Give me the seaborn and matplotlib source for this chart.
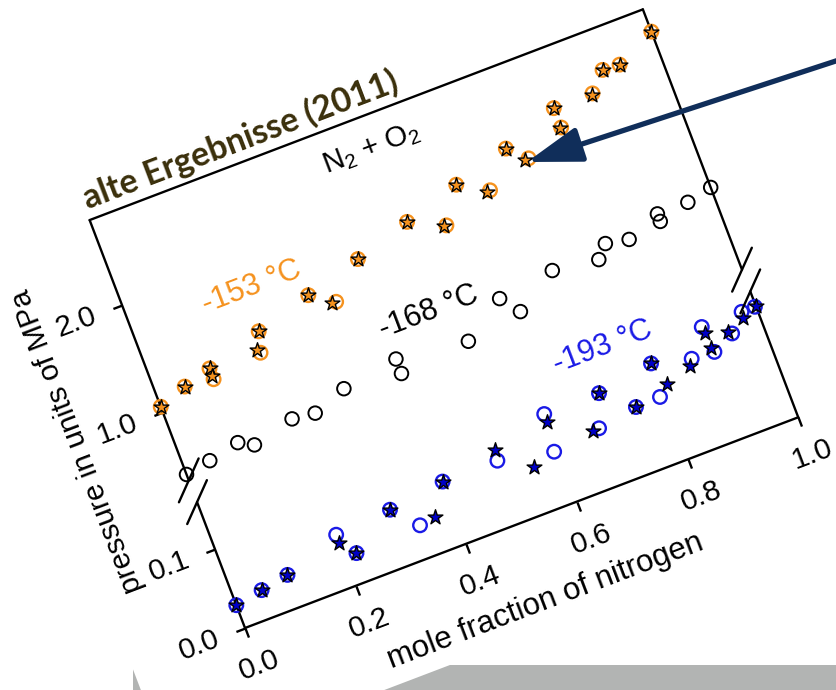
import matplotlib
matplotlib.use("Agg")
import matplotlib.pyplot as plt
import seaborn as sns
from matplotlib.transforms import Affine2D
from matplotlib.patches import Polygon, Rectangle
from matplotlib.lines import Line2D
import mpl_toolkits.axisartist.floating_axes as floating_axes
from mpl_toolkits.axisartist.grid_finder import FixedLocator

# -153 °C: circles and stars (upper part of the broken axis)
orange_circle_x = [0.00, 0.05, 0.10, 0.10, 0.20, 0.19, 0.30, 0.34, 0.40, 0.50, 0.56,
                   0.60, 0.65, 0.70, 0.73, 0.80, 0.80, 0.87, 0.90, 0.93, 1.00]
orange_circle_y = [1.05, 1.14, 1.21, 1.11, 1.36, 1.18, 1.50, 1.36, 1.64, 1.79, 1.64,
                   1.94, 1.79, 2.08, 1.93, 2.26, 2.08, 2.26, 2.42, 2.41, 2.58]
orange_star_x = [0.00, 0.05, 0.10, 0.10, 0.20, 0.186, 0.30, 0.333, 0.40, 0.50, 0.556,
                 0.60, 0.644, 0.70, 0.723, 0.80, 0.798, 0.868, 0.90, 0.93, 1.00]
orange_star_y = [1.05, 1.14, 1.21, 1.14, 1.36, 1.21, 1.50, 1.36, 1.64, 1.79, 1.644,
                 1.94, 1.79, 2.08, 1.93, 2.26, 2.08, 2.25, 2.42, 2.41, 2.58]

# -168 °C: circles only
black_x = [0.0, 0.045, 0.10, 0.125, 0.20, 0.24, 0.30, 0.40, 0.40, 0.525,
           0.60, 0.625, 0.70, 0.78, 0.80, 0.84, 0.90, 0.90, 0.955, 1.0]
black_y = [0.42, 0.46, 0.52, 0.45, 0.545, 0.52, 0.63, 0.71, 0.575, 0.63,
           0.88, 0.71, 0.945, 0.89, 1.00, 0.96, 1.01, 1.08, 1.08, 1.13]

# -193 °C: circles and stars (lower part of the broken axis)
blue_circle_x = [0.0, 0.049, 0.099, 0.20, 0.221, 0.30, 0.338, 0.40, 0.499, 0.594, 0.601,
                 0.679, 0.70, 0.75, 0.794, 0.80, 0.867, 0.902, 0.907, 0.946, 0.974, 0.998]
blue_circle_y = [0.029, 0.035, 0.041, 0.065, 0.036, 0.070, 0.040, 0.079, 0.079, 0.065, 0.111,
                 0.072, 0.111, 0.080, 0.081, 0.122, 0.110, 0.141, 0.108, 0.121, 0.141, 0.141]
blue_star_x = [0.0, 0.049, 0.099, 0.199, 0.221, 0.30, 0.367, 0.40, 0.502, 0.553, 0.60,
               0.668, 0.70, 0.75, 0.813, 0.80, 0.86, 0.904, 0.903, 0.941, 0.973, 1.0]
blue_star_y = [0.029, 0.035, 0.041, 0.055, 0.036, 0.070, 0.043, 0.079, 0.092, 0.057, 0.101,
               0.071, 0.111, 0.080, 0.092, 0.122, 0.103, 0.133, 0.1135, 0.1245, 0.133, 0.1415]

x_ticks = [0.0, 0.2, 0.4, 0.6, 0.8, 1.0]
y_ticks_low = [0.0, 0.1]
y_ticks_high = [1.0, 2.0]
y_range_low = (0.0, 0.16)
y_range_high = (0.365, 2.787)

ORANGE = "#f5921e"
BLUE = "#1a1ae6"
BLUE_FILL = "#0000c8"
TITLE_COL = "#3a2f0b"
NAVY = "#102e5a"
SHADOW = "#b2b4b3"

# the whole chart is tilted, like a rotated picture on a slide
ANGLE = 20.85
ORIGIN = (245, 62)   # figure pixels, y up
X_LEN = 592
LOW_SCALE = 842
HIGH_SCALE = 115
HIGH_SHIFT = 116

sns.set_theme(style="white", rc={"axes.edgecolor": "black", "text.color": "black",
                                 "xtick.color": "black", "ytick.color": "black",
                                 "axes.grid": False})
plt.rcParams["font.family"] = ["Liberation Sans", "DejaVu Sans"]
plt.rcParams["mathtext.fontset"] = "custom"
plt.rcParams["mathtext.rm"] = "Liberation Sans"
plt.rcParams["mathtext.it"] = "Liberation Sans:italic"

fig = plt.figure(figsize=(8.36, 6.9), dpi=100)

# background: grey shadow strip and the white tilted sheet
ax_bg = fig.add_axes([0, 0, 1, 1], zorder=-1)
ax_bg.set_xlim(0, 836)
ax_bg.set_ylim(690, 0)
ax_bg.axis("off")
ax_bg.add_patch(Rectangle((133, 665), 703, 30, color=SHADOW, lw=0))
cx, cy = 171.7, 771
ex, ey = 0.9345 * 2000, -0.356 * 2000
ux, uy = -0.356 * 2000, -0.9345 * 2000
ax_bg.add_patch(Polygon([(cx, cy), (cx + ex, cy + ey), (cx + ex + ux, cy + ey + uy),
                         (cx + ux, cy + uy)], closed=True, color="white", lw=0))


def fmt(direction, factor, values):
    return [f"{v:.1f}" for v in values]


def broken_part(tr, y_range, y_ticks):
    gh = floating_axes.GridHelperCurveLinear(
        tr, extremes=(0, 1, *y_range),
        grid_locator1=FixedLocator(x_ticks),
        grid_locator2=FixedLocator(y_ticks),
        tick_formatter1=fmt, tick_formatter2=fmt)
    ax = fig.add_axes([0, 0, 1, 1], axes_class=floating_axes.FloatingAxes,
                      grid_helper=gh)
    x0, x1 = ax.get_xlim()
    y0, y1 = ax.get_ylim()
    W, H = fig.bbox.width, fig.bbox.height
    ax.set_position([x0 / W, y0 / H, (x1 - x0) / W, (y1 - y0) / H])
    for side in ["left", "right", "bottom", "top"]:
        a = ax.axis[side]
        a.line.set_linewidth(1.7)
        a.major_ticks.set_tick_out(True)
        a.major_ticks.set_ticksize(7)
        a.major_ticks.set_markeredgewidth(1.7)
        a.major_ticklabels.set_fontsize(21.5)
        a.major_ticklabels.set_pad(13)
        a.major_ticks.set_visible(side in ("left", "bottom"))
        a.major_ticklabels.set_visible(side in ("left", "bottom"))
    return ax, ax.get_aux_axes(tr)


tr_low = Affine2D().scale(X_LEN, LOW_SCALE).rotate_deg(ANGLE).translate(*ORIGIN)
tr_high = (Affine2D().scale(X_LEN, HIGH_SCALE).translate(0, HIGH_SHIFT)
           .rotate_deg(ANGLE).translate(*ORIGIN))

ax_lo, aux_lo = broken_part(tr_low, y_range_low, y_ticks_low)
ax_lo.axis["top"].set_visible(False)
ax_hi, aux_hi = broken_part(tr_high, y_range_high, y_ticks_high)
ax_hi.axis["bottom"].set_visible(False)


def dots(ax, x, y, marker, face, edge, size, lw, z):
    sns.scatterplot(x=x, y=y, ax=ax, marker=marker, s=size, facecolor=face,
                    edgecolor=edge, linewidth=lw, legend=False, clip_on=False, zorder=z)


dots(aux_hi, orange_circle_x, orange_circle_y, "o", "none", ORANGE, 95, 1.7, 3)
dots(aux_hi, orange_star_x, orange_star_y, "*", ORANGE, "black", 125, 1.0, 4)
dots(aux_hi, black_x, black_y, "o", "none", "black", 95, 1.4, 3)
dots(aux_lo, blue_circle_x, blue_circle_y, "o", "none", BLUE, 95, 1.7, 3)
dots(aux_lo, blue_star_x, blue_star_y, "*", BLUE_FILL, "black", 125, 1.0, 4)

tkw = dict(rotation=ANGLE, rotation_mode="anchor", ha="center", va="center")
aux_hi.text(0.215, 1.74, "-153 °C", color=ORANGE, fontsize=22, **tkw)
aux_hi.text(0.48, 0.99, "-168 °C", color="black", fontsize=22, **tkw)
aux_lo.text(0.734, 0.160, "-193 °C", color=BLUE, fontsize=22, **tkw)
aux_hi.text(0.488, 2.50, "N$_2$ + O$_2$", color="black", fontsize=21, **tkw)
aux_hi.text(0.286, 2.972, "alte Ergebnisse (2011)", color=TITLE_COL, fontsize=24.5,
            fontweight="bold", family=["Lato", "DejaVu Sans"], **tkw)
aux_hi.text(-0.152, 1.03, "pressure in units of MPa", fontsize=21.5,
            rotation=ANGLE + 90, rotation_mode="anchor", ha="center", va="center")
aux_lo.text(0.49, -0.097, "mole fraction of nitrogen", fontsize=22.5, **tkw)

# break marks on both vertical spines
local = Affine2D().rotate_deg(ANGLE).translate(*ORIGIN).scale(1 / fig.dpi) + fig.dpi_scale_trans
h_low_top = y_range_low[1] * LOW_SCALE
h_high_bottom = HIGH_SHIFT + y_range_high[0] * HIGH_SCALE
for xc in (0, X_LEN):
    for hc in (h_low_top, h_high_bottom):
        fig.add_artist(Line2D([xc - 17, xc + 17], [hc - 17, hc + 17], transform=local,
                              color="black", lw=1.7, zorder=2))

# pointer arrow
ax_top = fig.add_axes([0, 0, 1, 1], zorder=10)
ax_top.set_xlim(0, 836)
ax_top.set_ylim(690, 0)
ax_top.axis("off")
ax_top.annotate("", xy=(527, 162), xytext=(845, 58),
                arrowprops=dict(arrowstyle="-|>,head_length=2.8,head_width=0.9",
                                lw=3.8, color=NAVY, shrinkA=0, shrinkB=0))

fig.savefig("out.png", dpi=100)
